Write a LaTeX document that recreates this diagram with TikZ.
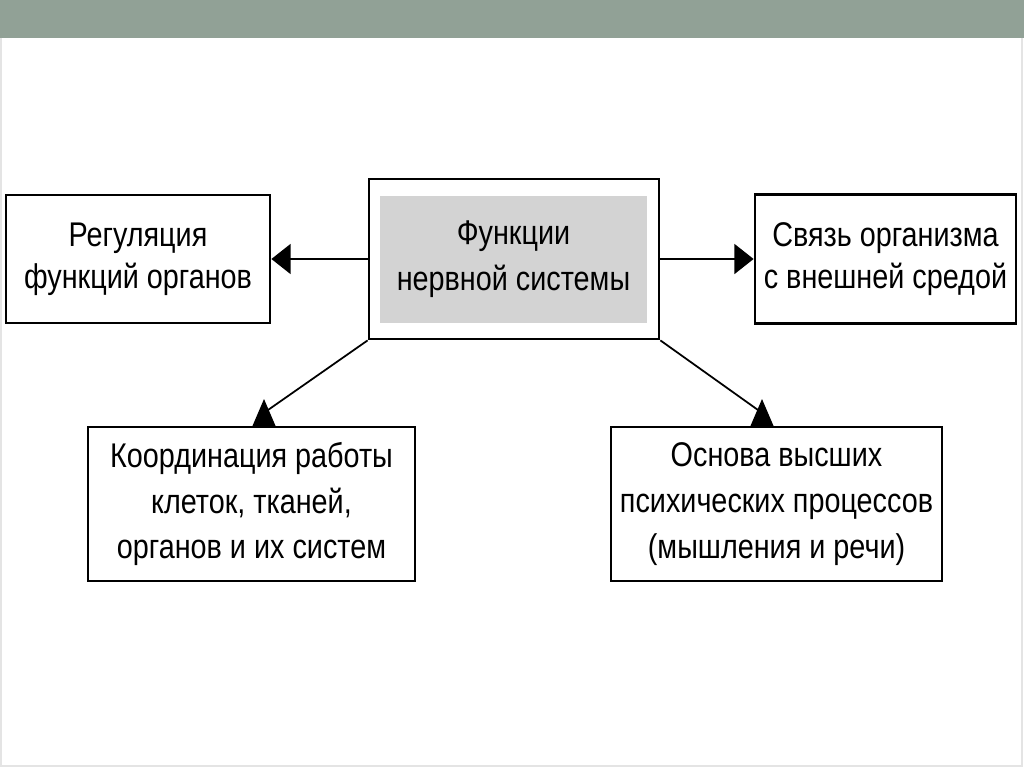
\documentclass[tikz,border=0pt]{standalone}
\usepackage{fontspec}
\setmainfont{Liberation Sans}[FakeStretch=0.84]
\usetikzlibrary{positioning,arrows.meta}
\definecolor{bargreen}{RGB}{145,161,150}
\definecolor{coregray}{RGB}{211,211,211}
\definecolor{edgegray}{RGB}{228,228,228}

\begin{document}
\begin{tikzpicture}[x=0.02cm, y=-0.02cm, box/.style={draw, line width=1.6pt, fill=white, align=center, font=\fontsize{19.5}{26}\selectfont, inner sep=0pt}, sidebox/.style={box, font=\fontsize{19.5}{24}\selectfont}, link/.style={line width=1.5pt}, slant/.style={line width=1pt}, tip/.style={-{Triangle[length=11pt,width=17pt]}, link}]
\useasboundingbox (0,0) rectangle (1024,767);
\fill[bargreen] (0,0) rectangle (1024,38);
\draw[edgegray, line width=0.6pt] (1,38) -- (1,766) -- (1022,766) -- (1022,38);
% centre
\node[box, minimum width=5.8cm, minimum height=3.2cm] (frame) at (514,259) {};
\node[fill=coregray, minimum width=5.34cm, minimum height=2.54cm, align=center, font=\fontsize{19.5}{26}\selectfont] (core) at (513.5,259.5) {Функции\\нервной системы};
% functions
\node[sidebox, minimum width=5.28cm, minimum height=2.56cm] (reg) at (138,259) {Регуляция\\функций органов};
\node[sidebox, minimum width=5.22cm, minimum height=2.58cm] (link) at (885.5,259) {Связь организма\\с внешней средой};
\node[box, minimum width=6.54cm, minimum height=3.08cm] (coord) at (251.5,504) {Координация работы\\клеток, тканей,\\органов и их систем};
\node[box, minimum width=6.62cm, minimum height=3.08cm] (base) at (776.5,504) {Основа высших\\психических процессов\\(мышления и речи)};
\coordinate (tipA) at (268,410);
\coordinate (tipB) at (758,410);
\draw[tip] (frame.west) -- (reg.east);
\draw[tip] (frame.east) -- (link.west);
\draw[slant] (frame.south west) -- (tipA);
\draw[slant] (frame.south east) -- (tipB);
\fill (264,399) -- (252,427) -- (276,427) -- cycle;
\fill (762,399) -- (750,427) -- (774,427) -- cycle;
\end{tikzpicture}
\end{document}
